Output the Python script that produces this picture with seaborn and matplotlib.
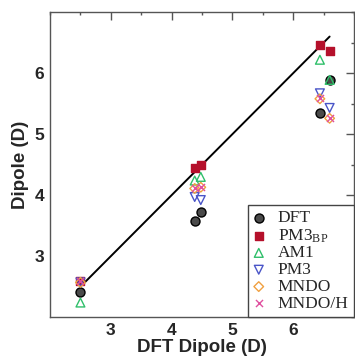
import numpy as np
import pandas as pd
import seaborn as sns
import matplotlib.pyplot as plt
from matplotlib.ticker import MultipleLocator

# DFT reference dipoles (x) and the dipoles from each method (y)
dft_x = [2.50, 4.38, 4.48, 6.44, 6.60]
dft_y = [2.42, 3.57, 3.73, 5.34, 5.89]
pm3bp_y = [2.60, 4.45, 4.50, 6.46, 6.37]
am1_y = [2.24, 4.24, 4.30, 6.22, 5.89]
pm3_y = [2.57, 3.97, 3.92, 5.67, 5.43]
mndo_y = [2.57, 4.11, 4.13, 5.58, 5.26]
mndoh_y = [2.60, 4.11, 4.13, 5.60, 5.26]
fit_x = [2.55, 6.60]

sns.set_style("white")
plt.rcParams["mathtext.fontset"] = "custom"
plt.rcParams["mathtext.rm"] = "Liberation Serif"
plt.rcParams["mathtext.it"] = "Liberation Serif:italic"

series = [
    ("DFT", dft_y, "o", "#4a4a4a", "black", 42),
    ("PM3$_{\\mathrm{BP}}$", pm3bp_y, "s", "#b5102b", "#b5102b", 34),
    ("AM1", am1_y, "^", "none", "#2fbf6a", 40),
    ("PM3", pm3_y, "v", "none", "#4a55c8", 40),
    ("MNDO", mndo_y, "D", "none", "#f0a040", 24),
    ("MNDO/H", mndoh_y, "x", "#e04f9f", "#e04f9f", 26),
]

fig, ax = plt.subplots(figsize=(3.55, 3.58), dpi=100)
fig.subplots_adjust(left=0.141, right=0.997, bottom=0.114, top=0.966)

sns.lineplot(x=fit_x, y=fit_x, color="black", lw=1.4, ax=ax, zorder=1)

for name, ys, mk, fc, ec, s in series:
    df = pd.DataFrame({"x": dft_x, "y": ys})
    if mk == "x":
        sns.scatterplot(data=df, x="x", y="y", marker=mk, color=ec, s=s,
                        linewidth=1.0, label=name, ax=ax, zorder=3)
    else:
        sns.scatterplot(data=df, x="x", y="y", marker=mk, facecolor=fc,
                        edgecolor=ec, s=s, linewidth=1.0, label=name,
                        ax=ax, zorder=3)

ax.set_xlim(2, 7)
ax.set_ylim(2, 7)
ax.xaxis.set_major_locator(MultipleLocator(1))
ax.xaxis.set_minor_locator(MultipleLocator(0.5))
ax.yaxis.set_major_locator(MultipleLocator(1))
ax.yaxis.set_minor_locator(MultipleLocator(0.5))
ax.set_xticks([3, 4, 5, 6])
ax.set_yticks([3, 4, 5, 6])
ax.tick_params(which="both", direction="in", top=True, right=True,
               color="#555555", width=1)
ax.tick_params(which="major", length=5.5, pad=4)
ax.tick_params(which="minor", length=2.5)
for lab in ax.get_xticklabels() + ax.get_yticklabels():
    lab.set_fontfamily("Liberation Sans")
    lab.set_fontweight("bold")
    lab.set_fontsize(12.5)
for sp in ax.spines.values():
    sp.set_color("#555555")
    sp.set_linewidth(1)

ax.set_xlabel("DFT Dipole (D)", fontsize=13.5, fontweight="bold",
              family="Liberation Sans", labelpad=1)
ax.set_ylabel("Dipole (D)", fontsize=13.5, fontweight="bold",
              family="Liberation Sans", labelpad=4)

leg = ax.legend(loc="lower right", borderaxespad=0, fancybox=False,
                edgecolor="#444444", framealpha=1,
                prop={"family": "Liberation Serif", "size": 12.5},
                handlelength=0.6, handletextpad=0.8, labelspacing=0.04,
                borderpad=0.3)
leg.get_frame().set_linewidth(1)

plt.savefig("out.png", dpi=100)
